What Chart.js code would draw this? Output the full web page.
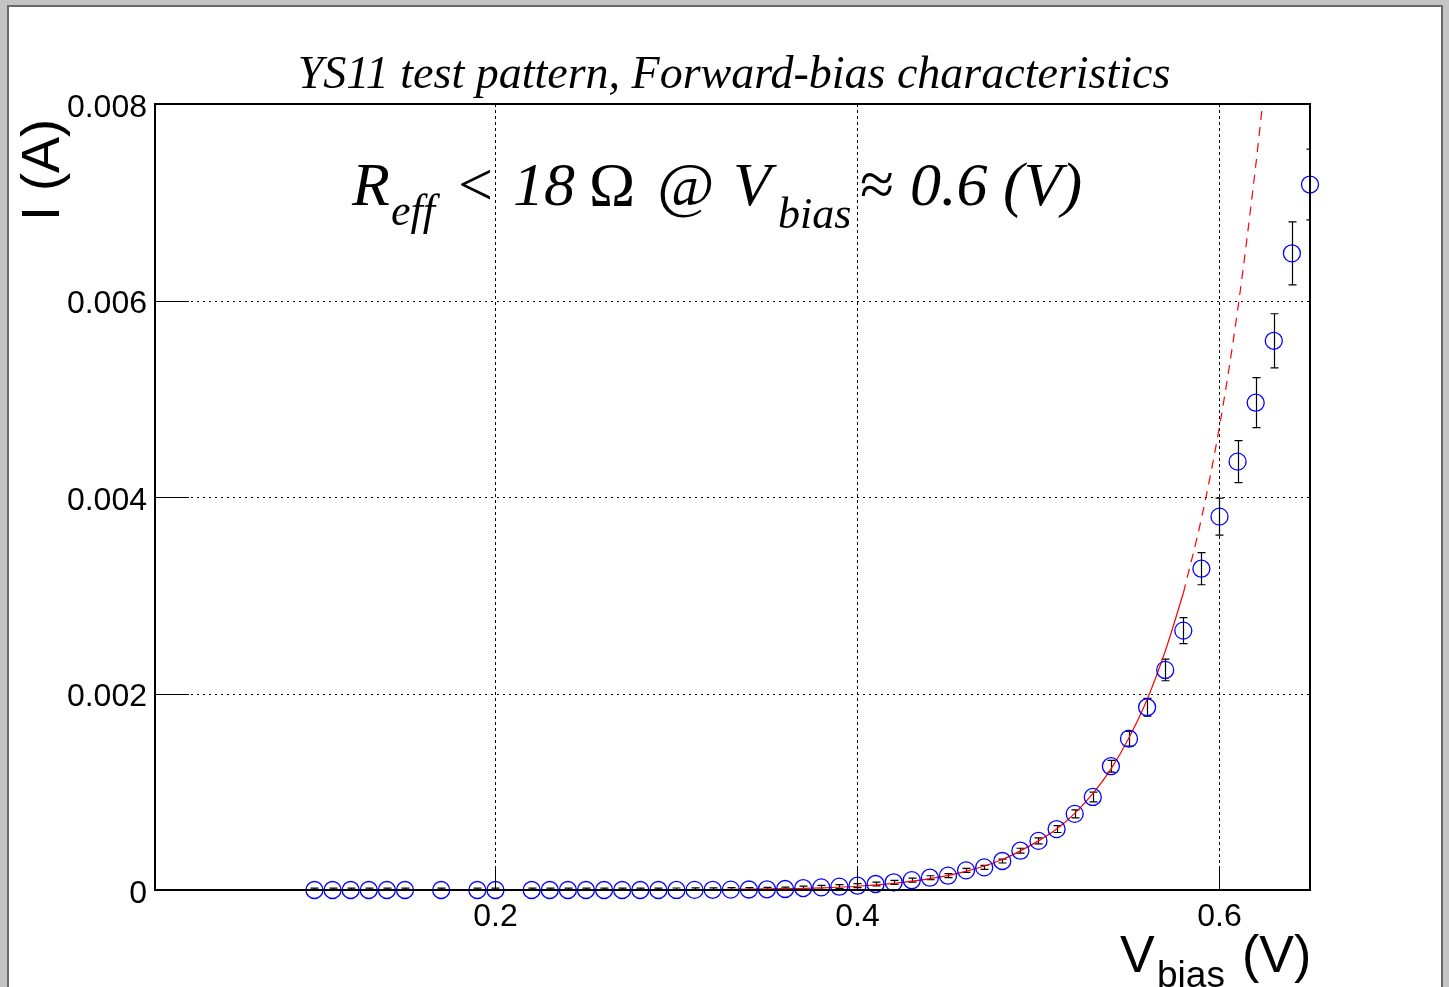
<!DOCTYPE html>
<html>
<head>
<meta charset="utf-8">
<script src="https://cdn.jsdelivr.net/npm/chart.js@4"></script>
<style>
  body { margin: 0; background: #c4c4c4; width: 1449px; height: 987px; overflow: hidden; position: relative; }
  #paper { position: absolute; left: 7px; top: 5px; width: 1432px; height: 990px; background: #fff;
           border-left: 2px solid #6a6a6a; border-top: 2px solid #6a6a6a; border-right: 2px solid #6a6a6a; }
  #chart { position: absolute; left: 0; top: 0; }
</style>
</head>
<body>
<div id="paper"></div>
<canvas id="chart" width="1449" height="987"></canvas>
<script>
// measured points: V bias (V), current (A), current error (A)
const vBias = [0.10, 0.11, 0.12, 0.13, 0.14, 0.15, 0.17, 0.19, 0.20, 0.22, 0.23, 0.24, 0.25,
    0.26, 0.27, 0.28, 0.29, 0.30, 0.31, 0.32, 0.33, 0.34, 0.35, 0.36, 0.37, 0.38, 0.39, 0.40,
    0.41, 0.42, 0.43, 0.44, 0.45, 0.46, 0.47, 0.48, 0.49, 0.50, 0.51, 0.52, 0.53, 0.54, 0.55,
    0.56, 0.57, 0.58, 0.59, 0.60, 0.61, 0.62, 0.63, 0.64, 0.65];
const current = [0, 0, 0, 0, 0, 0, 0, 0, 0, 0, 0, 0, 0,
    0, 0, 0, 0, 0.0000005, 0.000001, 0.000002, 0.000004, 0.000005, 0.000007, 0.00001, 0.00002, 0.000027, 0.000034, 0.000044,
    0.000061, 0.000078, 0.0001, 0.000125, 0.000146, 0.0002, 0.00023, 0.000295, 0.0004, 0.0005, 0.00062, 0.000775, 0.000947, 0.00126, 0.00154,
    0.00186, 0.00224, 0.00264, 0.00327, 0.0038, 0.00436, 0.00496, 0.00559, 0.00648, 0.00718];
const currentErr = [0.00002, 0.00002, 0.00002, 0.00002, 0.00002, 0.00002, 0.00002, 0.00002, 0.00002, 0.00002, 0.00002, 0.00002, 0.00002,
    0.00002, 0.00002, 0.00002, 0.00002, 0.00002, 0.00002, 0.00002, 0.00002, 0.00002, 0.00002, 0.00002, 0.00002, 0.00002, 0.00002, 0.00002,
    0.00002, 0.00002, 0.00002, 0.00002, 0.00002, 0.00002, 0.00002, 0.00002, 0.000025, 0.00003, 0.000035, 0.00004, 0.00005, 0.00006, 0.000075,
    0.00009, 0.00011, 0.000132, 0.000163, 0.000188, 0.000214, 0.000254, 0.000275, 0.00032, 0.00036];

// fit curve (solid inside fit range, dashed extension)
const fitX = [0.30, 0.32, 0.34, 0.36, 0.38, 0.40, 0.42, 0.44, 0.46, 0.48, 0.50, 0.51, 0.52, 0.53, 0.54, 0.55, 0.56, 0.57, 0.58];
const fitY = [0.000003, 0.000005, 0.000008, 0.000013, 0.000022, 0.000038, 0.000068, 0.000115, 0.00019, 0.00031, 0.0005, 0.00062, 0.00078, 0.00098, 0.00123, 0.00155, 0.00194, 0.00243, 0.00302];
const extX = [0.58, 0.59, 0.60, 0.61, 0.62, 0.6238];
const extY = [0.00302, 0.00378, 0.00472, 0.00590, 0.00737, 0.0080];

const xTicks = [0.2, 0.4, 0.6];
const yTicks = [0, 0.002, 0.004, 0.006, 0.008];

Chart.defaults.font.family = '"Liberation Sans", Arial, sans-serif';
Chart.defaults.color = '#000';

const pts = (xs, ys) => xs.map((x, i) => ({ x: x, y: ys[i] }));

//Grid, ticks and error bars under the markers
const under = {
    id: 'under',
    beforeDatasetsDraw(chart) {
        const ctx = chart.ctx, a = chart.chartArea;
        const sx = chart.scales.x, sy = chart.scales.y;
        ctx.save();
        ctx.strokeStyle = '#000';
        ctx.lineWidth = 1;
        ctx.setLineDash([2, 4]);
        yTicks.forEach(v => {
            const y = Math.round(sy.getPixelForValue(v)) + 0.5;
            ctx.beginPath(); ctx.moveTo(a.left, y); ctx.lineTo(a.right, y); ctx.stroke();
        });
        ctx.setLineDash([3, 3]);
        xTicks.forEach(v => {
            const x = Math.round(sx.getPixelForValue(v)) + 0.5;
            ctx.beginPath(); ctx.moveTo(x, a.top); ctx.lineTo(x, a.bottom); ctx.stroke();
        });
        ctx.setLineDash([]);
        // ticks inside the frame
        yTicks.forEach(v => {
            const y = Math.round(sy.getPixelForValue(v)) + 0.5;
            ctx.beginPath(); ctx.moveTo(a.left, y); ctx.lineTo(a.left + 34, y); ctx.stroke();
        });
        xTicks.forEach(v => {
            const x = Math.round(sx.getPixelForValue(v)) + 0.5;
            ctx.beginPath(); ctx.moveTo(x, a.bottom); ctx.lineTo(x, a.bottom - 23); ctx.stroke();
        });
        // error bars
        ctx.beginPath();
        ctx.rect(a.left, a.top, a.right - a.left, a.bottom - a.top);
        ctx.clip();
        ctx.strokeStyle = '#000';
        ctx.lineWidth = 1.2;
        vBias.forEach((v, i) => {
            const x = Math.round(sx.getPixelForValue(v)) + 0.5;
            const y1 = sy.getPixelForValue(current[i] + currentErr[i]);
            const y2 = sy.getPixelForValue(current[i] - currentErr[i]);
            ctx.beginPath();
            ctx.moveTo(x, y1); ctx.lineTo(x, y2);
            ctx.moveTo(x - 4, y1); ctx.lineTo(x + 4, y1);
            ctx.moveTo(x - 4, y2); ctx.lineTo(x + 4, y2);
            ctx.stroke();
        });
        ctx.restore();
    }
};

//Frame and all text
const over = {
    id: 'over',
    afterDraw(chart) {
        const ctx = chart.ctx, a = chart.chartArea;
        ctx.save();
        ctx.strokeStyle = '#000';
        ctx.lineWidth = 2;
        ctx.strokeRect(a.left, a.top, a.right - a.left, a.bottom - a.top);

        ctx.fillStyle = '#000';
        ctx.textBaseline = 'alphabetic';
        ctx.textAlign = 'center';
        ctx.font = 'italic 46px "Liberation Serif"';
        ctx.fillText('YS11 test pattern, Forward-bias characteristics', 734, 88);

        ctx.textAlign = 'left';
        const it = 'italic 62px "Liberation Serif"', up = '62px "Liberation Serif"', sub = 'italic 44px "Liberation Serif"';
        const pieces = [
            ['R', it, 352, 205], ['eff', sub, 391, 225], ['<', up, 458, 205], ['18', it, 513, 205],
            ['\u03A9', up, 589, 205], ['@', it, 657, 205], ['V', it, 733, 205], ['bias', sub, 778, 228],
            ['\u2248', up, 860, 205], ['0.6 (V)', it, 910, 205]
        ];
        pieces.forEach(p => { ctx.font = p[1]; ctx.fillText(p[0], p[2], p[3]); });

        // x axis title
        ctx.font = '52px "Liberation Sans"';
        ctx.fillText('V', 1120, 972);
        ctx.font = '37px "Liberation Sans"';
        ctx.fillText('bias', 1157, 987);
        ctx.font = '52px "Liberation Sans"';
        ctx.fillText('(V)', 1242, 972);

        // y axis title
        ctx.translate(59, 221);
        ctx.rotate(-Math.PI / 2);
        ctx.font = '54px "Liberation Sans"';
        ctx.fillText('I (A)', 0, 0);
        ctx.restore();
    }
};

new Chart(document.getElementById('chart'), {
    type: 'scatter',
    data: {
        datasets: [
            {
                data: pts(vBias, current),
                showLine: false,
                pointStyle: 'circle',
                pointRadius: 8.5,
                pointHoverRadius: 8.5,
                pointBackgroundColor: 'rgba(0,0,0,0)',
                pointBorderColor: '#0000ff',
                pointBorderWidth: 1.3,
                clip: false,
                order: 1
            },
            {
                type: 'line',
                data: pts(fitX, fitY),
                borderColor: '#ff0000',
                borderWidth: 1.2,
                pointRadius: 0,
                cubicInterpolationMode: 'monotone',
                fill: false,
                order: 2
            },
            {
                type: 'line',
                data: pts(extX, extY),
                borderColor: '#ff0000',
                borderWidth: 1.2,
                borderDash: [9, 7],
                pointRadius: 0,
                cubicInterpolationMode: 'monotone',
                fill: false,
                order: 2
            }
        ]
    },
    options: {
        responsive: false,
        animation: false,
        devicePixelRatio: 1,
        layout: { padding: { left: 0, top: 104, right: 139, bottom: 0 } },
        plugins: { legend: false, tooltip: { enabled: false } },
        events: [],
        scales: {
            x: {
                type: 'linear',
                min: 0.0119,
                max: 0.65,
                grid: { display: false },
                border: { display: false },
                afterBuildTicks: s => { s.ticks = xTicks.map(v => ({ value: v })); },
                afterFit: s => { s.height = 97; },
                ticks: {
                    autoSkip: false,
                    maxRotation: 0,
                    padding: 0,
                    font: { size: 32 },
                    callback: v => v.toFixed(1)
                }
            },
            y: {
                type: 'linear',
                min: 0,
                max: 0.008,
                grid: { display: false },
                border: { display: false },
                afterBuildTicks: s => { s.ticks = yTicks.map(v => ({ value: v })); },
                afterFit: s => { s.width = 155; },
                ticks: {
                    autoSkip: false,
                    padding: 0,
                    labelOffset: 4,
                    font: { size: 32 },
                    callback: v => v === 0 ? '0' : v.toFixed(3)
                }
            }
        }
    },
    plugins: [under, over]
});
</script>
</body>
</html>
